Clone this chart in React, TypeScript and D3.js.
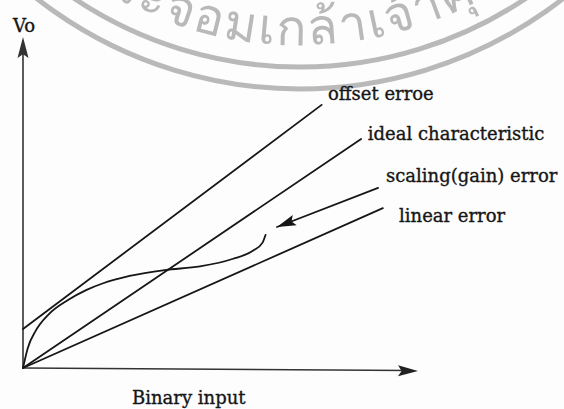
import React from "react";
import * as d3 from "d3";

// Transfer characteristic of a DAC: output voltage against binary input code.
// Both axes run over a normalised 0..100 range.
const offsetLine: [number, number][] = [
  [0, 11.8],
  [75.6, 79.5],
];
const idealLine: [number, number][] = [
  [0, 0],
  [85.6, 69.2],
];
const lowLine: [number, number][] = [
  [0, 0],
  [91.1, 48.3],
];
const nonlinearCurve: [number, number][] = [
  [0, 0],
  [1.2, 6.0],
  [3.2, 11.2],
  [6.5, 16.2],
  [11.5, 20.6],
  [16.1, 23.6],
  [20.3, 25.6],
  [27.0, 27.8],
  [35.9, 29.6],
  [44.8, 30.7],
  [53.2, 33.0],
  [58.2, 35.4],
  [60.6, 37.8],
  [61.4, 40.2],
];
// Pointer from the label side towards the end of the non-linear curve.
const pointer: [number, number][] = [
  [89.9, 54.4],
  [64.3, 42.6],
];

const labels = [
  { text: "offset erroe", at: [77.2, 81.0] },
  { text: "ideal characteristic", at: [87.3, 68.9] },
  { text: "scaling(gain) error", at: [91.9, 56.2] },
  { text: "linear error", at: [95.2, 44.1] },
];

const W = 564;
const H = 409;

const x = d3.scaleLinear().domain([0, 100]).range([23, 418]);
const y = d3.scaleLinear().domain([0, 100]).range([368, 37]);

const line = d3
  .line<[number, number]>()
  .x((d) => x(d[0]))
  .y((d) => y(d[1]));
const curve = d3
  .line<[number, number]>()
  .x((d) => x(d[0]))
  .y((d) => y(d[1]))
  .curve(d3.curveMonotoneX);

const ink = "#161616";
const font = "'DejaVu Serif', serif";

// Filled arrowhead whose tip sits at (tx, ty), pointing away from (fx, fy).
function arrowHead(fx: number, fy: number, tx: number, ty: number, len: number, half: number) {
  const a = Math.atan2(ty - fy, tx - fx);
  const bx = tx - len * Math.cos(a);
  const by = ty - len * Math.sin(a);
  const nx = -Math.sin(a) * half;
  const ny = Math.cos(a) * half;
  return `M${tx},${ty}L${bx + nx},${by + ny}L${bx + len * 0.18 * Math.cos(a)},${by + len * 0.18 * Math.sin(a)}L${bx - nx},${by - ny}Z`;
}

// Institute seal stamped faintly across the top of the page.
const seal = { cx: 300, cy: -339, rInner: 406, rOuter: 428, rText: 384 };

function arcPath(r: number) {
  const { cx, cy } = seal;
  const a0 = (160 * Math.PI) / 180;
  const a1 = (20 * Math.PI) / 180;
  const sx = cx + r * Math.cos(a0);
  const sy = cy + r * Math.sin(a0);
  const ex = cx + r * Math.cos(a1);
  const ey = cy + r * Math.sin(a1);
  return `M${sx},${sy}A${r},${r} 0 0 0 ${ex},${ey}`;
}

export default function App() {
  const x0 = x(0);
  const y0 = y(0);
  const yTop = y(100);
  const xEnd = x(100);
  const [p0, p1] = pointer;
  return (
    <svg
      width={W}
      height={H}
      viewBox={`0 0 ${W} ${H}`}
      style={{ position: "absolute", left: 0, top: 0, background: "#fdfdfd" }}
    >
      <defs>
        <path id="sealText" d={arcPath(seal.rText)} />
      </defs>
      <g opacity={0.9}>
        <path d={arcPath(seal.rInner)} fill="none" stroke="#b2b2b2" strokeWidth={5} />
        <path d={arcPath(seal.rOuter)} fill="none" stroke="#b2b2b2" strokeWidth={5} />
        <text
          fontFamily="'Noto Sans', 'DejaVu Sans', sans-serif"
          fontSize={50}
          letterSpacing={2}
          fill="#b2b2b2"
        >
          <textPath href="#sealText" startOffset="50%" textAnchor="middle">
            พระจอมเกล้าเจ้าคุณ
          </textPath>
        </text>
      </g>

      {/* axes */}
      <line x1={x0} y1={y0} x2={x0} y2={yTop + 10} stroke="#333" strokeWidth={1.6} />
      <path d={arrowHead(x0, y0, x0, yTop, 21, 5.5)} fill="#333" />
      <line x1={x0} y1={y0} x2={xEnd - 10} y2={y0 + 2.5} stroke="#333" strokeWidth={1.7} />
      <path d={arrowHead(x0, y0, xEnd, y0 + 3, 20, 5.5)} fill="#222" />

      {/* characteristics */}
      <g fill="none" stroke={ink} strokeWidth={1.8} strokeLinecap="round">
        <path d={line(offsetLine) ?? ""} />
        <path d={line(idealLine) ?? ""} />
        <path d={line(lowLine) ?? ""} />
        <path d={curve(nonlinearCurve) ?? ""} />
        <path d={line(pointer) ?? ""} />
      </g>
      <path d={arrowHead(x(p0[0]), y(p0[1]), x(p1[0]), y(p1[1]), 19, 5.5)} fill={ink} />

      {/* text */}
      <g fontFamily={font} fontSize={18} fill={ink} stroke={ink} strokeWidth={0.35}>
        <text x={13} y={32}>Vo</text>
        {labels.map((l) => (
          <text key={l.text} x={x(l.at[0])} y={y(l.at[1])}>
            {l.text}
          </text>
        ))}
        <text x={132} y={403.5}>Binary input</text>
      </g>
    </svg>
  );
}
